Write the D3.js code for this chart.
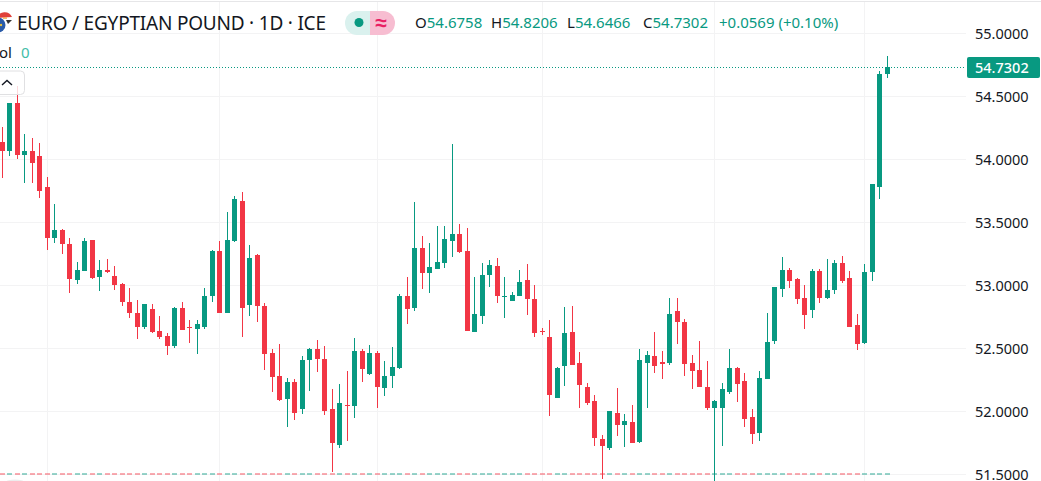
<!DOCTYPE html>
<html>
<head>
<meta charset="utf-8">
<title>EUR/EGP</title>
<script src="https://cdn.jsdelivr.net/npm/d3@7"></script>
<style>
  html, body { margin: 0; padding: 0; background: #fff; overflow: hidden; }
  svg { display: block; }
  text { font-family: "Noto Sans", sans-serif; }
</style>
</head>
<body>
<svg id="chart" width="1041" height="481"></svg>
<script>
'use strict';

// ---- Data -------------------------------------------------------------------

const opens = [
  54.137, 54.066, 54.446, 54.034, 54.066, 54.026, 53.780, 53.375, 53.439, 53.327,
  53.042, 53.113, 53.359, 53.066, 53.121, 53.074, 53.010, 52.867, 52.780, 52.669,
  52.812, 52.637, 52.597, 52.518, 52.820, 52.669, 52.653, 52.669, 52.915, 53.272,
  52.780, 53.351, 53.669, 52.843, 53.240, 52.836, 52.462, 52.280, 52.097, 52.232,
  52.018, 52.407, 52.494, 52.415, 52.018, 51.732, 52.050, 52.042, 52.478, 52.296,
  52.462, 52.185, 52.280, 52.343, 52.915, 52.820, 53.296, 53.097, 53.129, 53.177,
  53.351, 53.407, 53.272, 52.629, 52.756, 53.081, 53.153, 52.907, 52.875, 52.915,
  53.042, 52.891, 52.637, 52.590, 52.105, 52.359, 52.629, 52.383, 52.193, 52.082,
  51.780, 51.708, 51.986, 51.891, 51.915, 51.756, 52.383, 52.439, 52.391, 52.383,
  52.796, 52.708, 52.383, 52.327, 52.193, 52.026, 52.026, 52.153, 52.343, 52.240,
  51.955, 51.828, 52.256, 52.558, 52.970, 53.121, 53.050, 52.899, 52.804, 53.113,
  52.899, 52.962, 53.177, 53.058, 52.685, 52.542, 53.105, 53.780, 54.6758
];

const highs = [
  54.256, 54.446, 54.581, 54.200, 54.168, 54.129, 53.859, 53.645, 53.447, 53.375,
  53.185, 53.375, 53.359, 53.200, 53.208, 53.153, 53.018, 52.978, 52.883, 52.851,
  52.851, 52.756, 52.621, 52.828, 52.867, 52.724, 52.724, 52.978, 53.280, 53.351,
  53.581, 53.708, 53.740, 53.320, 53.248, 52.859, 52.494, 52.534, 52.264, 52.256,
  52.439, 52.502, 52.566, 52.518, 52.177, 52.216, 52.320, 52.582, 52.494, 52.526,
  52.478, 52.399, 52.510, 52.931, 53.066, 53.661, 53.391, 53.335, 53.470, 53.470,
  54.121, 53.486, 53.454, 53.066, 53.177, 53.200, 53.216, 53.066, 52.946, 53.121,
  53.169, 53.002, 52.661, 52.724, 52.351, 52.828, 52.836, 52.470, 52.224, 52.129,
  51.812, 52.002, 52.185, 51.978, 52.050, 52.494, 52.478, 52.629, 52.478, 52.899,
  52.899, 52.732, 52.446, 52.558, 52.399, 52.090, 52.224, 52.494, 52.351, 52.304,
  52.018, 52.320, 52.780, 52.986, 53.224, 53.137, 53.058, 53.002, 53.129, 53.129,
  53.208, 53.200, 53.232, 53.113, 52.772, 53.169, 53.804, 54.700, 54.8206
];

const lows = [
  53.852, 54.026, 54.003, 53.812, 53.812, 53.693, 53.280, 53.335, 53.248, 52.939,
  53.010, 53.113, 53.050, 52.954, 53.097, 52.963, 52.836, 52.740, 52.574, 52.653,
  52.621, 52.574, 52.446, 52.502, 52.645, 52.542, 52.455, 52.653, 52.867, 52.780,
  52.780, 53.343, 52.590, 52.756, 52.708, 52.327, 52.153, 52.082, 51.875, 51.931,
  51.978, 52.161, 52.312, 51.970, 51.518, 51.708, 51.764, 51.946, 52.232, 52.288,
  52.026, 52.121, 52.185, 52.335, 52.693, 52.796, 52.970, 52.939, 53.129, 53.137,
  53.224, 53.256, 52.637, 52.629, 52.693, 52.986, 52.859, 52.740, 52.875, 52.915,
  52.764, 52.590, 52.605, 51.962, 52.105, 52.201, 52.367, 52.026, 52.050, 51.724,
  51.462, 51.693, 51.804, 51.717, 51.748, 51.748, 52.026, 52.304, 52.256, 52.367,
  52.534, 52.280, 52.177, 52.193, 52.010, 51.440, 51.724, 52.137, 52.074, 51.875,
  51.740, 51.764, 52.256, 52.534, 52.907, 52.978, 52.851, 52.653, 52.740, 52.859,
  52.891, 52.931, 53.018, 52.669, 52.486, 52.534, 53.034, 53.685, 54.6466
];

const closes = [
  54.066, 54.446, 54.034, 54.066, 53.971, 53.748, 53.375, 53.439, 53.327, 53.050,
  53.121, 53.351, 53.058, 53.121, 53.105, 53.002, 52.867, 52.780, 52.669, 52.851,
  52.629, 52.590, 52.518, 52.820, 52.645, 52.661, 52.693, 52.915, 53.272, 52.780,
  53.359, 53.685, 52.820, 53.216, 52.836, 52.455, 52.272, 52.090, 52.232, 51.986,
  52.407, 52.494, 52.415, 52.002, 51.748, 52.066, 52.042, 52.478, 52.335, 52.462,
  52.193, 52.280, 52.351, 52.915, 52.812, 53.296, 53.097, 53.145, 53.185, 53.367,
  53.407, 53.264, 52.637, 52.772, 53.081, 53.161, 52.915, 52.915, 52.923, 53.026,
  52.891, 52.621, 52.629, 52.129, 52.343, 52.621, 52.367, 52.208, 52.066, 51.788,
  51.724, 52.002, 51.891, 51.923, 51.748, 52.407, 52.446, 52.359, 52.375, 52.772,
  52.708, 52.375, 52.320, 52.193, 52.026, 52.082, 52.177, 52.343, 52.216, 51.939,
  51.820, 52.264, 52.550, 52.986, 53.121, 53.034, 52.891, 52.764, 53.113, 52.899,
  52.962, 53.177, 53.034, 52.669, 52.534, 53.105, 53.804, 54.673, 54.7302
];

const priceTicks = [51.5, 52, 52.5, 53, 53.5, 54, 54.5, 55];
const timeGridIndexes = [6, 29, 50, 72, 95, 115];

const titleText = 'EURO / EGYPTIAN POUND · 1D · ICE';
const legendLabels = ['O', 'H', 'L', 'C'];
const legendValues = ['54.6758', '54.8206', '54.6466', '54.7302'];
const legendChange = '+0.0569 (+0.10%)';

// ---- Colours ----------------------------------------------------------------

const UP = '#089981', DOWN = '#f23645';
const GRID = '#f3f3f4', TEXT = '#131722';

// ---- Scales -----------------------------------------------------------------

const PANE_W = 966, W = 1041;

const x = d3.scaleLinear().domain([0, 118]).range([2.4, 887.4]);
const y = d3.scaleLinear().domain([51.5, 55]).range([474, 33]);

// Snap to device pixels so wicks stay one pixel wide, as in the original.
const cx = i => Math.floor(x(i)) + 0.5;
const py = v => Math.round(y(v));

const svg = d3.select('#chart');
const candles = d3.range(opens.length).map(i => ({
  i, o: opens[i], h: highs[i], l: lows[i], c: closes[i], up: closes[i] >= opens[i],
}));
const colour = d => (d.up ? UP : DOWN);

// ---- Grid -------------------------------------------------------------------

svg.append('line').attr('x1', 0).attr('x2', W).attr('y1', 1.5).attr('y2', 1.5)
  .attr('stroke', '#e6e6e8').attr('stroke-width', 1);

svg.append('g').selectAll('line').data(priceTicks).join('line')
  .attr('x1', 0).attr('x2', PANE_W)
  .attr('y1', d => py(d) + 0.5).attr('y2', d => py(d) + 0.5)
  .attr('stroke', GRID);

svg.append('g').selectAll('line').data(timeGridIndexes).join('line')
  .attr('x1', d => cx(d)).attr('x2', d => cx(d))
  .attr('y1', 2).attr('y2', 481)
  .attr('stroke', GRID);

// ---- Last price line --------------------------------------------------------

const lastClose = closes[closes.length - 1];

svg.append('line')
  .attr('x1', 0).attr('x2', PANE_W)
  .attr('y1', py(lastClose) + 0.5).attr('y2', py(lastClose) + 0.5)
  .attr('stroke', UP).attr('stroke-dasharray', '1 2');

// ---- Zero height volume bars along the bottom -------------------------------

svg.append('g').selectAll('rect').data(candles).join('rect')
  .attr('x', d => cx(d.i) - 2.5)
  .attr('y', py(51.5) - 1)
  .attr('width', 5).attr('height', 2)
  .attr('fill', colour).attr('opacity', 0.42);

// ---- Candles ----------------------------------------------------------------

const candleSel = svg.append('g').selectAll('g').data(candles).join('g');

candleSel.append('rect').attr('class', 'wick')
  .attr('x', d => cx(d.i) - 0.5)
  .attr('y', d => py(d.h))
  .attr('width', 1)
  .attr('height', d => Math.max(1, py(d.l) - py(d.h)))
  .attr('fill', colour);

candleSel.append('rect').attr('class', 'body')
  .attr('x', d => cx(d.i) - 2.5)
  .attr('y', d => py(Math.max(d.o, d.c)))
  .attr('width', 5)
  .attr('height', d => Math.max(1, py(Math.min(d.o, d.c)) - py(Math.max(d.o, d.c))))
  .attr('fill', colour);

// ---- Price axis -------------------------------------------------------------

const axis = d3.axisRight(y)
  .tickValues(priceTicks)
  .tickFormat(d3.format('.4f'))
  .tickSize(0)
  .tickPadding(9);

const axisG = svg.append('g').attr('transform', `translate(${PANE_W},0.5)`).call(axis);
axisG.select('.domain').remove();
axisG.selectAll('text')
  .style('font-family', '"Noto Sans", sans-serif')
  .style('font-size', '14.5px')
  .attr('fill', TEXT);

svg.append('rect')
  .attr('x', PANE_W + 1).attr('y', py(lastClose) - 10)
  .attr('width', 73).attr('height', 21)
  .attr('rx', 2)
  .attr('fill', UP);

svg.append('text')
  .attr('x', PANE_W + 9).attr('y', py(lastClose) + 5.5)
  .attr('fill', '#fff')
  .attr('font-size', 14.5)
  .attr('font-weight', 500)
  .text(d3.format('.4f')(lastClose));

// ---- Header -----------------------------------------------------------------

const icon = svg.append('g');
icon.append('circle').attr('cx', 4).attr('cy', 21).attr('r', 8).attr('fill', '#fff');
icon.append('path').attr('d', 'M-3,18A8,8 0 0 1 12,17Z').attr('fill', '#e0413a');
icon.append('circle').attr('cx', -2).attr('cy', 25).attr('r', 7.5).attr('fill', '#2a5ba8');
icon.append('circle').attr('cx', 1).attr('cy', 25).attr('r', 1.2).attr('fill', '#e9c43c');
icon.append('path').attr('d', 'M6,20L12,20L8,24Z').attr('fill', '#333');
icon.append('rect').attr('x', 3).attr('y', 17.5).attr('width', 4).attr('height', 1.2).attr('fill', '#f0a030');

svg.append('text')
  .attr('x', 17).attr('y', 30)
  .attr('fill', TEXT)
  .attr('font-size', 19)
  .attr('textLength', 309)
  .text(titleText);

// Status pill.
svg.append('path').attr('d', 'M370,11H357a12,12 0 0 0 0,24H370Z').attr('fill', '#daf1ee');
svg.append('path').attr('d', 'M370,11H383a12,12 0 0 1 0,24H370Z').attr('fill', '#f7bdd1');
svg.append('circle').attr('cx', 359).attr('cy', 22.5).attr('r', 4.5).attr('fill', UP);
svg.append('text')
  .attr('x', 381).attr('y', 29.5).attr('text-anchor', 'middle')
  .attr('fill', '#e91e63').attr('font-size', 21).attr('font-weight', 700)
  .text('≈');

// OHLC values.
const legendX = d3.scalePoint().domain(legendLabels).range([415, 643]);

legendLabels.forEach((label, k) => {
  const t = svg.append('text')
    .attr('x', legendX(label)).attr('y', 27.5)
    .attr('font-size', 15);
  t.append('tspan').attr('fill', TEXT).text(label);
  t.append('tspan').attr('fill', UP).text(legendValues[k]);
});

svg.append('text')
  .attr('x', 719).attr('y', 27.5)
  .attr('fill', UP)
  .attr('font-size', 15)
  .text(legendChange);

// Volume legend, cut off by the left edge.
svg.append('text').attr('x', -1).attr('y', 58).attr('fill', TEXT).attr('font-size', 15).text('ol');
svg.append('text').attr('x', 21).attr('y', 58).attr('fill', '#42bda8').attr('font-size', 15).text('0');

// Collapse button sits on top of the candles.
svg.append('rect')
  .attr('x', -6).attr('y', 71)
  .attr('width', 30.5).attr('height', 23.5)
  .attr('rx', 4)
  .attr('fill', 'rgba(255,255,255,0.82)')
  .attr('stroke', '#e0e0e2');
svg.append('path')
  .attr('d', 'M2,85L7,80.5L12,85')
  .attr('fill', 'none').attr('stroke', TEXT).attr('stroke-width', 1.4);

// Edge of a control cropped at the bottom.
svg.append('ellipse').attr('cx', 15).attr('cy', 482).attr('rx', 9).attr('ry', 2.5).attr('fill', '#ededed');
</script>
</body>
</html>
